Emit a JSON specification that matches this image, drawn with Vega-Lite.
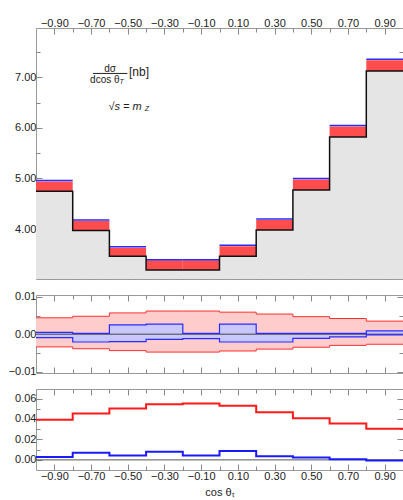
{
  "$schema": "https://vega.github.io/schema/vega-lite/v6.json",
  "background": "white",
  "padding": {"left": 7, "top": 16, "right": 0, "bottom": 2},
  "spacing": 16,
  "bounds": "flush",
  "datasets": {
    "bins": [
      {"lo": -1.0, "hi": -0.8, "k": 4.75, "r": 4.94, "b": 4.96},
      {"lo": -0.8, "hi": -0.6, "k": 3.97, "r": 4.16, "b": 4.18},
      {"lo": -0.6, "hi": -0.4, "k": 3.46, "r": 3.63, "b": 3.65},
      {"lo": -0.4, "hi": -0.2, "k": 3.19, "r": 3.38, "b": 3.39},
      {"lo": -0.2, "hi": 0.0, "k": 3.19, "r": 3.38, "b": 3.39},
      {"lo": 0.0, "hi": 0.2, "k": 3.46, "r": 3.66, "b": 3.68},
      {"lo": 0.2, "hi": 0.4, "k": 3.98, "r": 4.18, "b": 4.20},
      {"lo": 0.4, "hi": 0.6, "k": 4.77, "r": 4.98, "b": 5.00},
      {"lo": 0.6, "hi": 0.8, "k": 5.82, "r": 6.03, "b": 6.05},
      {"lo": 0.8, "hi": 1.0, "k": 7.13, "r": 7.34, "b": 7.36}
    ],
    "edges": [
      {"x": -1.0, "k": 4.75, "pu": 0.0044, "pl": -0.0034, "bu": 0.0005, "bl": -0.0009, "R": 0.0393, "B": 0.0027},
      {"x": -0.8, "k": 3.97, "pu": 0.0048, "pl": -0.0039, "bu": 0.0002, "bl": -0.0021, "R": 0.0453, "B": 0.0069},
      {"x": -0.6, "k": 3.46, "pu": 0.0057, "pl": -0.0044, "bu": 0.0025, "bl": -0.0020, "R": 0.0502, "B": 0.0043},
      {"x": -0.4, "k": 3.19, "pu": 0.0062, "pl": -0.0048, "bu": 0.0027, "bl": -0.0014, "R": 0.0545, "B": 0.0079},
      {"x": -0.2, "k": 3.19, "pu": 0.0062, "pl": -0.0048, "bu": 0.0002, "bl": -0.0012, "R": 0.0552, "B": 0.0043},
      {"x": 0.0, "k": 3.46, "pu": 0.0059, "pl": -0.0045, "bu": 0.0027, "bl": -0.0021, "R": 0.0529, "B": 0.0086},
      {"x": 0.2, "k": 3.98, "pu": 0.0054, "pl": -0.0040, "bu": 0.0002, "bl": -0.0021, "R": 0.0466, "B": 0.0036},
      {"x": 0.4, "k": 4.77, "pu": 0.0047, "pl": -0.0035, "bu": 0.0002, "bl": -0.0011, "R": 0.0407, "B": 0.0023},
      {"x": 0.6, "k": 5.82, "pu": 0.0042, "pl": -0.0030, "bu": 0.0002, "bl": -0.0007, "R": 0.0355, "B": 0.0007},
      {"x": 0.8, "k": 7.13, "pu": 0.0035, "pl": -0.0027, "bu": 0.0009, "bl": -0.0002, "R": 0.0305, "B": -0.0007},
      {"x": 1.0, "k": 7.13, "pu": 0.0035, "pl": -0.0027, "bu": 0.0009, "bl": -0.0002, "R": 0.0305, "B": -0.0007}
    ]
  },
  "vconcat": [
    {
      "width": 367,
      "height": 251,
      "resolve": {"axis": {"x": "independent", "y": "independent"}},
      "layer": [
        {
          "data": {"name": "edges"},
          "mark": {"type": "area", "color": "#e5e5e5", "interpolate": "step-after", "clip": true},
          "encoding": {
            "x": {"field": "x", "type": "quantitative", "scale": {"domain": [-1, 1], "nice": false, "zero": false},
              "axis": {"orient": "top", "values": [-0.9,-0.8,-0.7,-0.6,-0.5,-0.4,-0.3,-0.2,-0.1,0,0.1,0.2,0.3,0.4,0.5,0.6,0.7,0.8,0.9],
                "labelExpr": "abs(round(datum.value*10)) % 2 == 1 ? format(datum.value, '.2f') : ''",
                "tickSize": {"condition": {"test": "abs(round(datum.value*10)) % 2 == 1", "value": -6}, "value": -4},
                "labelPadding": 6, "title": null}},
            "y": {"field": "k", "type": "quantitative", "scale": {"domain": [3.01, 7.98], "nice": false, "zero": false},
              "axis": {"orient": "left", "values": [3.5,4,4.5,5,5.5,6,6.5,7,7.5],
                "labelExpr": "datum.value % 1 == 0 ? format(datum.value, '.2f') : ''",
                "tickSize": {"condition": {"test": "datum.value % 1 == 0", "value": -6}, "value": -4},
                "labelPadding": 6, "title": null}},
            "y2": {"datum": 3.0}
          }
        },
        {
          "data": {"name": "bins"},
          "mark": {"type": "rect", "color": "#ff4d4d", "clip": true},
          "encoding": {
            "x": {"field": "lo", "type": "quantitative",
              "axis": {"orient": "bottom", "values": [-0.9,-0.8,-0.7,-0.6,-0.5,-0.4,-0.3,-0.2,-0.1,0,0.1,0.2,0.3,0.4,0.5,0.6,0.7,0.8,0.9],
                "labels": false,
                "tickSize": {"condition": {"test": "abs(round(datum.value*10)) % 2 == 1", "value": -6}, "value": -4},
                "title": null}},
            "x2": {"field": "hi"},
            "y": {"field": "k", "type": "quantitative",
              "axis": {"orient": "right", "values": [3.5,4,4.5,5,5.5,6,6.5,7,7.5], "labels": false,
                "tickSize": {"condition": {"test": "datum.value % 1 == 0", "value": -6}, "value": -4},
                "title": null}},
            "y2": {"field": "r"}
          }
        },
        {
          "data": {"name": "bins"},
          "mark": {"type": "rule", "color": "#2a2aff", "strokeWidth": 1.5},
          "encoding": {
            "x": {"field": "lo", "type": "quantitative", "axis": null},
            "x2": {"field": "hi"},
            "y": {"field": "b", "type": "quantitative", "axis": null}
          }
        },
        {
          "data": {"name": "edges"},
          "mark": {"type": "line", "color": "#111111", "strokeWidth": 1.5, "interpolate": "step-after"},
          "encoding": {
            "x": {"field": "x", "type": "quantitative", "axis": null},
            "y": {"field": "k", "type": "quantitative", "axis": null}
          }
        },
        {
          "data": {"values": [{"x1": -0.69, "x2": -0.502, "y": 7.08}]},
          "mark": {"type": "rule", "color": "#222222", "strokeWidth": 1},
          "encoding": {
            "x": {"field": "x1", "type": "quantitative", "axis": null},
            "x2": {"field": "x2"},
            "y": {"field": "y", "type": "quantitative", "axis": null}
          }
        },
        {
          "data": {"values": [{"x": -0.596, "y": 7.16, "t": "dσ"}, {"x": -0.625, "y": 6.96, "t": "dcos θ"}]},
          "mark": {"type": "text", "font": "Liberation Sans", "fontSize": 10, "color": "#222222", "baseline": "middle", "align": "center"},
          "encoding": {
            "x": {"field": "x", "type": "quantitative", "axis": null},
            "y": {"field": "y", "type": "quantitative", "axis": null},
            "text": {"field": "t"}
          }
        },
        {
          "data": {"values": [{"x": -0.545, "y": 6.91, "t": "T"}, {"x": -0.408, "y": 6.37, "t": "Z"}]},
          "mark": {"type": "text", "font": "Liberation Sans", "fontSize": 7, "fontStyle": "italic", "color": "#222222", "baseline": "middle", "align": "left"},
          "encoding": {
            "x": {"field": "x", "type": "quantitative", "axis": null},
            "y": {"field": "y", "type": "quantitative", "axis": null},
            "text": {"field": "t"}
          }
        },
        {
          "data": {"values": [{"x": -0.493, "y": 7.11, "t": "[nb]"}]},
          "mark": {"type": "text", "font": "Liberation Sans", "fontSize": 12, "color": "#222222", "baseline": "middle", "align": "left"},
          "encoding": {
            "x": {"field": "x", "type": "quantitative", "axis": null},
            "y": {"field": "y", "type": "quantitative", "axis": null},
            "text": {"field": "t"}
          }
        },
        {
          "data": {"values": [{"x": -0.605, "y": 6.41, "t": "√s = m"}]},
          "mark": {"type": "text", "font": "Liberation Sans", "fontSize": 11, "fontStyle": "italic", "color": "#222222", "baseline": "middle", "align": "left"},
          "encoding": {
            "x": {"field": "x", "type": "quantitative", "axis": null},
            "y": {"field": "y", "type": "quantitative", "axis": null},
            "text": {"field": "t"}
          }
        }
      ]
    },
    {
      "width": 367,
      "height": 78,
      "resolve": {"axis": {"x": "independent", "y": "independent"}},
      "layer": [
        {
          "data": {"name": "edges"},
          "mark": {"type": "area", "color": "#ffcccc", "interpolate": "step-after"},
          "encoding": {
            "x": {"field": "x", "type": "quantitative", "scale": {"domain": [-1, 1], "nice": false, "zero": false},
              "axis": {"orient": "top", "values": [-0.9,-0.8,-0.7,-0.6,-0.5,-0.4,-0.3,-0.2,-0.1,0,0.1,0.2,0.3,0.4,0.5,0.6,0.7,0.8,0.9],
                "labels": false,
                "tickSize": {"condition": {"test": "abs(round(datum.value*10)) % 2 == 1", "value": -6}, "value": -4},
                "title": null}},
            "y": {"field": "pl", "type": "quantitative", "scale": {"domain": [-0.0104, 0.0105], "nice": false, "zero": false},
              "axis": {"orient": "left", "values": [-0.01, -0.005, 0, 0.005, 0.01],
                "labelExpr": "abs(round(datum.value*1000)) % 10 == 0 ? format(datum.value, '.2f') : ''",
                "tickSize": {"condition": {"test": "abs(round(datum.value*1000)) % 10 == 0", "value": -6}, "value": -4},
                "labelPadding": 6, "title": null}},
            "y2": {"field": "pu"}
          }
        },
        {
          "data": {"name": "edges"},
          "mark": {"type": "area", "color": "#c8c8ff", "interpolate": "step-after"},
          "encoding": {
            "x": {"field": "x", "type": "quantitative",
              "axis": {"orient": "bottom", "values": [-0.9,-0.8,-0.7,-0.6,-0.5,-0.4,-0.3,-0.2,-0.1,0,0.1,0.2,0.3,0.4,0.5,0.6,0.7,0.8,0.9],
                "labels": false,
                "tickSize": {"condition": {"test": "abs(round(datum.value*10)) % 2 == 1", "value": -6}, "value": -4},
                "title": null}},
            "y": {"field": "bl", "type": "quantitative",
              "axis": {"orient": "right", "values": [-0.01, -0.005, 0, 0.005, 0.01], "labels": false,
                "tickSize": {"condition": {"test": "abs(round(datum.value*1000)) % 10 == 0", "value": -6}, "value": -4},
                "title": null}},
            "y2": {"field": "bu"}
          }
        },
        {
          "data": {"values": [{"y": 0}]},
          "mark": {"type": "rule", "color": "#444444", "strokeWidth": 1},
          "encoding": {"y": {"field": "y", "type": "quantitative", "axis": null}}
        },
        {
          "data": {"name": "edges"},
          "mark": {"type": "line", "color": "#ff3030", "strokeWidth": 1, "interpolate": "step-after"},
          "encoding": {
            "x": {"field": "x", "type": "quantitative", "axis": null},
            "y": {"field": "pu", "type": "quantitative", "axis": null}
          }
        },
        {
          "data": {"name": "edges"},
          "mark": {"type": "line", "color": "#ff3030", "strokeWidth": 1, "interpolate": "step-after"},
          "encoding": {
            "x": {"field": "x", "type": "quantitative", "axis": null},
            "y": {"field": "pl", "type": "quantitative", "axis": null}
          }
        },
        {
          "data": {"name": "edges"},
          "mark": {"type": "line", "color": "#2a2aff", "strokeWidth": 1.2, "interpolate": "step-after"},
          "encoding": {
            "x": {"field": "x", "type": "quantitative", "axis": null},
            "y": {"field": "bu", "type": "quantitative", "axis": null}
          }
        },
        {
          "data": {"name": "edges"},
          "mark": {"type": "line", "color": "#2a2aff", "strokeWidth": 1.2, "interpolate": "step-after"},
          "encoding": {
            "x": {"field": "x", "type": "quantitative", "axis": null},
            "y": {"field": "bl", "type": "quantitative", "axis": null}
          }
        }
      ]
    },
    {
      "width": 367,
      "height": 81,
      "resolve": {"axis": {"x": "independent", "y": "independent"}},
      "layer": [
        {
          "data": {"values": [{"y": 0}]},
          "mark": {"type": "rule", "color": "#555555", "strokeWidth": 1},
          "encoding": {
            "x": {"datum": -1, "type": "quantitative", "scale": {"domain": [-1, 1], "nice": false, "zero": false},
              "axis": {"orient": "bottom", "values": [-0.9,-0.8,-0.7,-0.6,-0.5,-0.4,-0.3,-0.2,-0.1,0,0.1,0.2,0.3,0.4,0.5,0.6,0.7,0.8,0.9],
                "labelExpr": "abs(round(datum.value*10)) % 2 == 1 ? format(datum.value, '.2f') : ''",
                "tickSize": {"condition": {"test": "abs(round(datum.value*10)) % 2 == 1", "value": -6}, "value": -4},
                "labelPadding": 6, "title": "cos θₜ", "titleFont": "Liberation Sans", "titleFontSize": 11, "titleFontWeight": "normal", "titleColor": "#222222", "titlePadding": 5}},
            "x2": {"datum": 1},
            "y": {"field": "y", "type": "quantitative", "scale": {"domain": [-0.0099, 0.0693], "nice": false, "zero": false},
              "axis": {"orient": "left", "values": [0, 0.01, 0.02, 0.03, 0.04, 0.05, 0.06],
                "labelExpr": "round(datum.value*100) % 2 == 0 ? format(datum.value, '.2f') : ''",
                "tickSize": {"condition": {"test": "round(datum.value*100) % 2 == 0", "value": -6}, "value": -4},
                "labelPadding": 6, "title": null}}
          }
        },
        {
          "data": {"name": "edges"},
          "mark": {"type": "line", "color": "#ff1a1a", "strokeWidth": 2, "interpolate": "step-after"},
          "encoding": {
            "x": {"field": "x", "type": "quantitative",
              "axis": {"orient": "top", "values": [-0.9,-0.8,-0.7,-0.6,-0.5,-0.4,-0.3,-0.2,-0.1,0,0.1,0.2,0.3,0.4,0.5,0.6,0.7,0.8,0.9],
                "labels": false,
                "tickSize": {"condition": {"test": "abs(round(datum.value*10)) % 2 == 1", "value": -6}, "value": -4},
                "title": null}},
            "y": {"field": "R", "type": "quantitative",
              "axis": {"orient": "right", "values": [0, 0.01, 0.02, 0.03, 0.04, 0.05, 0.06], "labels": false,
                "tickSize": {"condition": {"test": "round(datum.value*100) % 2 == 0", "value": -6}, "value": -4},
                "title": null}}
          }
        },
        {
          "data": {"name": "edges"},
          "mark": {"type": "line", "color": "#1a1aff", "strokeWidth": 2, "interpolate": "step-after"},
          "encoding": {
            "x": {"field": "x", "type": "quantitative", "axis": null},
            "y": {"field": "B", "type": "quantitative", "axis": null}
          }
        }
      ]
    }
  ],
  "config": {
    "axis": {"grid": false, "domain": false, "labelFont": "Liberation Sans", "labelFontSize": 11, "labelColor": "#222222", "tickColor": "#888888"},
    "view": {"stroke": "#999999", "strokeWidth": 1}
  }
}
